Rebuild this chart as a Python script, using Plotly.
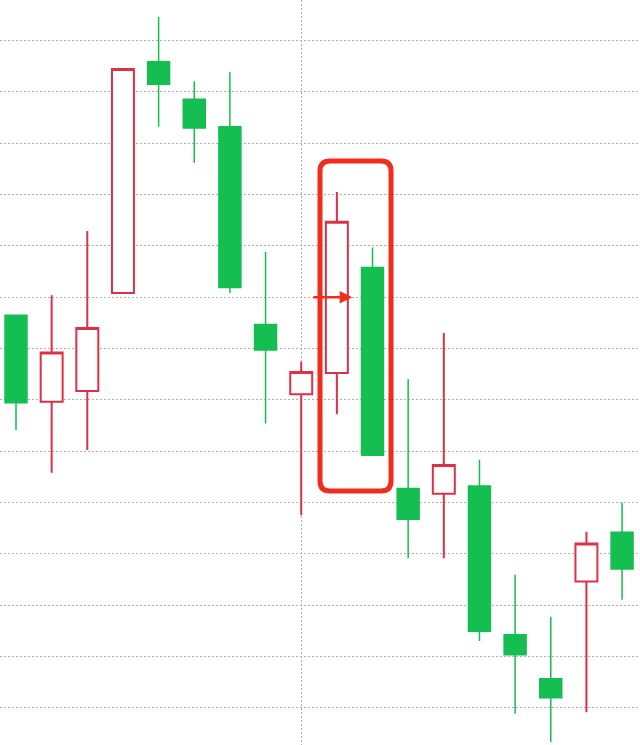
import plotly.graph_objects as go

idx = list(range(1, 19))
opens = [176.5, 159.6, 161.7, 180.8, 225.9, 218.6, 213.2, 174.7, 161.1, 165.2, 185.8, 142.7, 141.7, 143.2, 114.2, 105.6, 124.6, 134.2]
highs = [176.5, 180.4, 192.9, 224.5, 234.6, 222.1, 223.9, 188.8, 167.4, 200.5, 189.7, 164.0, 173.0, 148.3, 125.9, 117.7, 134.3, 139.9]
lows = [154.1, 145.8, 150.2, 180.8, 213.2, 206.2, 180.8, 155.4, 137.5, 157.2, 149.2, 129.1, 129.1, 113.0, 98.8, 93.3, 99.1, 121.0]
closes = [159.4, 169.2, 174.0, 224.5, 221.5, 213.0, 181.9, 169.7, 165.4, 194.7, 149.2, 136.7, 147.3, 114.9, 110.3, 101.9, 132.0, 127.0]

RED = "#dc3146"
GREEN = "#14be50"
HL = "#f02c1c"

fig = go.Figure(go.Candlestick(
    x=idx, open=opens, high=highs, low=lows, close=closes,
    increasing=dict(line=dict(color=RED, width=2), fillcolor="white"),
    decreasing=dict(line=dict(color=GREEN, width=1.5), fillcolor=GREEN),
    hoverinfo="skip",
))

# highlight box around candles 10-11
x0, x1, y0, y1 = 9.527, 11.519, 142.2, 206.55
rx, ry = 0.28, 1.95
path = (f"M {x0+rx},{y1} L {x1-rx},{y1} Q {x1},{y1} {x1},{y1-ry} "
        f"L {x1},{y0+ry} Q {x1},{y0} {x1-rx},{y0} L {x0+rx},{y0} "
        f"Q {x0},{y0} {x0},{y0+ry} L {x0},{y1-ry} Q {x0},{y1} {x0+rx},{y1} Z")
fig.add_shape(type="path", path=path, xref="x", yref="y",
              line=dict(color=HL, width=5), fillcolor="rgba(0,0,0,0)", layer="above")

fig.add_annotation(x=10.43, y=180.0, ax=9.30, ay=180.0, xref="x", yref="y",
                   axref="x", ayref="y", text="", showarrow=True,
                   arrowhead=2, arrowsize=1, arrowwidth=2.5, arrowcolor=HL, standoff=0)

fig.update_layout(
    width=640, height=745,
    margin=dict(l=0, r=0, t=0, b=0),
    paper_bgcolor="white", plot_bgcolor="white",
    showlegend=False,
    hovermode=False,
    boxgap=0.12, boxgroupgap=0.3,
    xaxis=dict(range=[0.551, 18.503], rangeslider=dict(visible=False),
               tickvals=[9], showticklabels=False, showgrid=True,
               gridcolor="#b0b0b0", griddash="2px,2px", gridwidth=1,
               zeroline=False, showline=False, ticks=""),
    yaxis=dict(range=[92.71, 237.93], tick0=100, dtick=10,
               showticklabels=False, showgrid=True,
               gridcolor="#b0b0b0", griddash="2px,2px", gridwidth=1,
               zeroline=False, showline=False, ticks=""),
)

fig.write_html("out.html", config={"staticPlot": True},
               post_script="document.body.style.margin='0px';document.body.style.overflow='hidden';")
